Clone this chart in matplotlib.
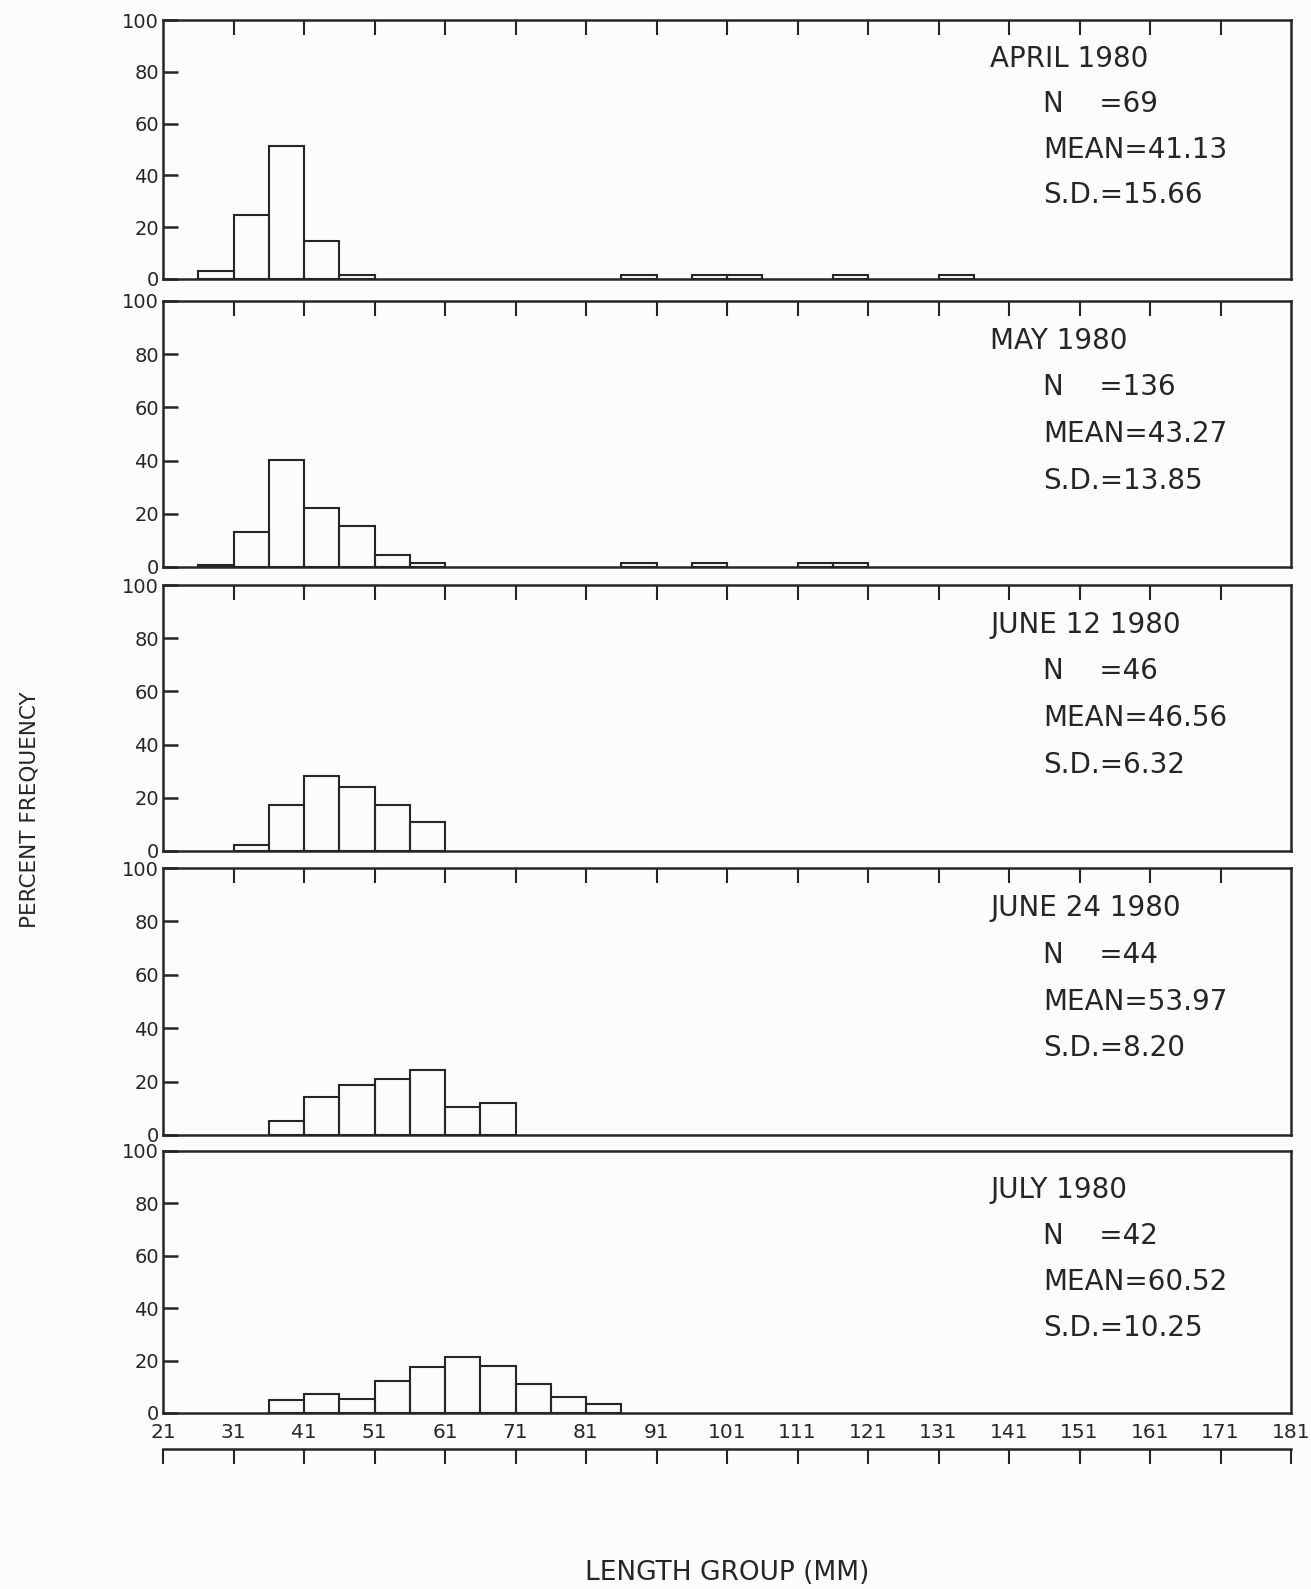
import matplotlib
matplotlib.use("Agg")
import matplotlib.pyplot as plt

# length groups are 5 mm wide, given by their lower edge
group_width = 5
length_ticks = list(range(21, 182, 10))

april_groups = [26, 31, 36, 41, 46, 86, 96, 101, 116, 131]
april_pct = [2.9, 24.6, 51.5, 14.5, 1.4, 1.4, 1.4, 1.4, 1.4, 1.4]

may_groups = [26, 31, 36, 41, 46, 51, 56, 86, 96, 111, 116]
may_pct = [0.7, 13.2, 40.4, 22.1, 15.4, 4.4, 1.5, 1.5, 1.5, 1.5, 1.5]

june12_groups = [31, 36, 41, 46, 51, 56]
june12_pct = [2.2, 17.4, 28.3, 23.9, 17.4, 10.9]

june24_groups = [36, 41, 46, 51, 56, 61, 66]
june24_pct = [5.3, 14.4, 18.6, 20.8, 24.2, 10.3, 11.9]

july_groups = [36, 41, 46, 51, 56, 61, 66, 71, 76, 81]
july_pct = [5.1, 7.3, 5.5, 12.2, 17.6, 21.5, 17.8, 10.9, 6.0, 3.3]

samples = ["APRIL 1980", "MAY 1980", "JUNE 12 1980", "JUNE 24 1980", "JULY 1980"]
sample_n = [69, 136, 46, 44, 42]
sample_mean = ["41.13", "43.27", "46.56", "53.97", "60.52"]
sample_sd = ["15.66", "13.85", "6.32", "8.20", "10.25"]

groups = [april_groups, may_groups, june12_groups, june24_groups, july_groups]
percents = [april_pct, may_pct, june12_pct, june24_pct, july_pct]

ink = "#262626"
paper = "#fcfcfa"
W, H = 1311, 1589

plt.rcParams["font.family"] = ["DejaVu Sans"]
fig = plt.figure(figsize=(W / 100, H / 100), dpi=100, facecolor=paper)

# panel frames in pixel rows (top, bottom)
rows = [(20, 279), (301, 567), (585, 851), (868, 1135), (1151, 1413)]
x0, x1 = 163, 1291

axes = []
for i, (top, bot) in enumerate(rows):
    ax = fig.add_axes([x0 / W, 1 - bot / H, (x1 - x0) / W, (bot - top) / H])
    ax.set_facecolor(paper)
    ax.bar(groups[i], percents[i], width=group_width, align="edge",
           fill=False, edgecolor=ink, linewidth=1.5)
    ax.set_xlim(21, 181)
    ax.set_ylim(0, 100)
    for sp in ax.spines.values():
        sp.set_color(ink)
        sp.set_linewidth(1.8)

    ax.set_yticks([0, 20, 40, 60, 80, 100])
    ax.tick_params(axis="y", direction="in", length=11, width=1.8,
                   color=ink, labelcolor=ink, labelsize=14, pad=3)

    # inward ticks along the top frame only
    ax.set_xticks(length_ticks[1:-1])
    ax.tick_params(axis="x", which="both", top=True, bottom=False,
                   labeltop=False, labelbottom=False,
                   direction="in", length=11, width=1.5, color=ink)

    ax.text(138.3, 85, samples[i], fontsize=20, color=ink, va="center")
    ax.text(145.8, 67.5, f"N    ={sample_n[i]}", fontsize=20, color=ink, va="center")
    ax.text(145.8, 50, f"MEAN={sample_mean[i]}", fontsize=20, color=ink, va="center")
    ax.text(145.8, 32.5, f"S.D.={sample_sd[i]}", fontsize=20, color=ink, va="center")
    axes.append(ax)

# length labels under the last panel
last = axes[-1]
last.set_xticks(length_ticks)
last.set_xticklabels([str(v) for v in length_ticks])
last.tick_params(axis="x", bottom=True, labelbottom=True, length=0,
                 labelsize=14.5, labelcolor=ink, pad=7)
last.set_xticks(length_ticks[1:-1], minor=True)
last.tick_params(axis="x", which="minor", top=True, bottom=False,
                 direction="in", length=11, width=1.5, color=ink)

# separate scale bar with downward ticks
bar_top, bar_bot = 1449, 1464
sb = fig.add_axes([x0 / W, 1 - bar_bot / H, (x1 - x0) / W, (bar_bot - bar_top) / H])
sb.patch.set_alpha(0)
sb.set_xlim(21, 181)
sb.set_yticks([])
for name, sp in sb.spines.items():
    sp.set_visible(name == "top")
sb.spines["top"].set_color(ink)
sb.spines["top"].set_linewidth(1.8)
sb.set_xticks(length_ticks)
sb.tick_params(axis="x", top=True, bottom=False, labeltop=False, labelbottom=False,
               direction="in", length=11, width=1.5, color=ink)

fig.text(30 / W, 1 - 810 / H, "PERCENT FREQUENCY", rotation=90, fontsize=15.5,
         color=ink, ha="center", va="center")
fig.text(727 / W, 1 - 1573 / H, "LENGTH GROUP (MM)", fontsize=19,
         color=ink, ha="center", va="center")

fig.savefig("out.png", dpi=100, facecolor=paper)
